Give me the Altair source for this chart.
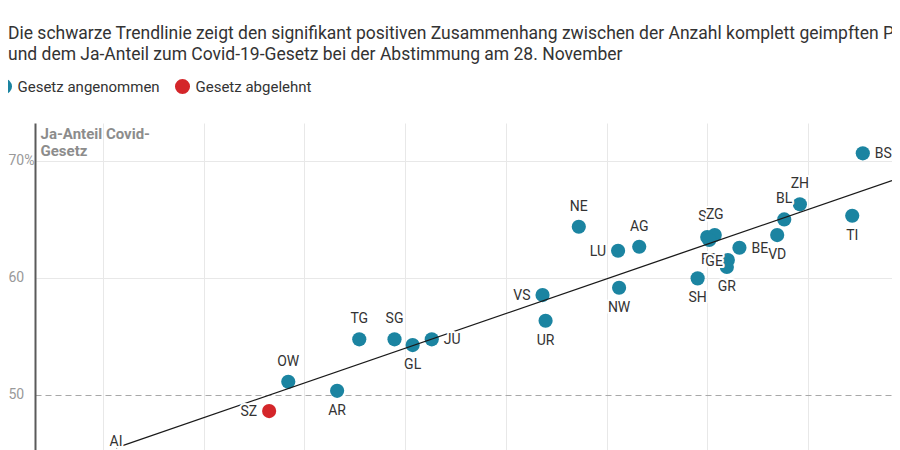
import altair as alt
import pandas as pd

# ---------------- data ----------------
cantons = ["BS", "ZH", "BL", "TI", "VD", "BE", "GE", "GR", "SO", "ZG", "FR", "SH", "AG",
           "LU", "NW", "NE", "VS", "UR", "JU", "GL", "SG", "TG", "AR", "OW", "SZ", "AI"]
impfquote = [67.09, 65.84, 65.53, 66.88, 65.39, 64.64, 64.41, 64.39, 64.00, 64.15, 64.04, 63.81, 62.65,
             62.23, 62.25, 61.45, 60.73, 60.79, 58.53, 58.15, 57.79, 57.09, 56.65, 55.68, 55.30, 52.26]
ja_anteil = [70.62, 66.26, 64.97, 65.28, 63.63, 62.55, 61.50, 60.90, 63.46, 63.63, 63.21, 59.93, 62.63,
             62.29, 59.13, 64.34, 58.50, 56.31, 54.72, 54.23, 54.72, 54.72, 50.32, 51.09, 48.59, 44.23]
resultat = ["Gesetz angenommen"] * 24 + ["Gesetz abgelehnt"] * 2
kategorien = ["Gesetz angenommen", "Gesetz abgelehnt"]

y_ticks = [50, 60, 70]
x_ticks = [52, 54, 56, 58, 60, 62, 64, 66]

titel = "Je höher die Impfquote, desto grösser die Zustimmung zum Covid-Gesetz"
untertitel = [
    "Die schwarze Trendlinie zeigt den signifikant positiven Zusammenhang zwischen der Anzahl komplett geimpften Personen",
    "und dem Ja-Anteil zum Covid-19-Gesetz bei der Abstimmung am 28. November",
]
y_titel = ["Ja-Anteil Covid-", "Gesetz"]

# ---------------- styling ----------------
TEAL = "#1b84a1"
RED = "#d4262a"
X_DOMAIN = [50.65, 67.67]
Y_DOMAIN = [45.26, 73.21]

label_pos = {"BS": "right", "ZH": "top", "BL": "top", "TI": "bottom", "VD": "bottom", "BE": "right",
             "GE": "leftnear", "GR": "bottom", "SO": "top", "ZG": "top", "FR": "bottom", "SH": "bottom",
             "AG": "top", "LU": "left", "NW": "bottom", "NE": "top", "VS": "left", "UR": "bottom",
             "JU": "right", "GL": "bottom", "SG": "top", "TG": "top", "AR": "bottom", "OW": "top",
             "SZ": "left", "AI": "top"}
front_labels = ["ZG", "GE"]
offsets = {"top": dict(dx=0, dy=-20, align="center"),
           "bottom": dict(dx=0, dy=20, align="center"),
           "left": dict(dx=-12, dy=1, align="right"),
           "leftnear": dict(dx=-5, dy=2, align="right"),
           "right": dict(dx=12, dy=1, align="left")}

df = pd.DataFrame({"Kanton": cantons, "Impfquote": impfquote, "JaAnteil": ja_anteil, "Resultat": resultat})
df["pos"] = df["Kanton"].map(label_pos)
df["front"] = df["Kanton"].isin(front_labels)

x_enc = alt.X("Impfquote:Q",
              scale=alt.Scale(domain=X_DOMAIN, nice=False, zero=False),
              axis=alt.Axis(values=x_ticks, labels=False, ticks=False, domain=False, title=None,
                            gridColor="#e8e8e8", gridWidth=1))
y_enc = alt.Y("JaAnteil:Q",
              scale=alt.Scale(domain=Y_DOMAIN, nice=False, zero=False),
              axis=alt.Axis(values=y_ticks, title=y_titel, titleAngle=0, titleAlign="left",
                            titleBaseline="alphabetic", titleX=5, titleY=15, titleFontSize=15,
                            titleFontWeight="bold", titleColor="#8c8c8c", titleLineHeight=17,
                            labelExpr="datum.value == 70 ? '70%' : datum.label",
                            labelFontSize=14, labelColor="#999999", labelAlign="left",
                            labelPadding=27, ticks=False,
                            domainColor="#5a5a5a", domainWidth=2,
                            gridColor=alt.condition("datum.value == 50", alt.value("#a8a8a8"), alt.value("#e8e8e8")),
                            gridDash=alt.condition("datum.value == 50", alt.value([6, 4]), alt.value([])),
                            gridWidth=1.1))

base = alt.Chart(df).encode(x=x_enc, y=y_enc)

points = base.mark_circle(size=201, opacity=1).encode(
    color=alt.Color("Resultat:N",
                    scale=alt.Scale(domain=kategorien, range=[TEAL, RED]),
                    legend=alt.Legend(title=None, orient="none", legendX=-38.5, legendY=-44.5,
                                      direction="horizontal", symbolType="circle", symbolSize=227,
                                      symbolStrokeWidth=0, symbolOpacity=1, labelFontSize=15,
                                      labelColor="#333333", labelOffset=5, columnPadding=14,
                                      padding=0, labelFont="Roboto"))
)

trend = base.transform_regression("Impfquote", "JaAnteil",
                                  extent=[min(impfquote), X_DOMAIN[1]]).mark_line(
    color="#1a1a1a", strokeWidth=1.3)


def label_layers(front, halo):
    layers = []
    for pos, o in offsets.items():
        filt = alt.FieldEqualPredicate(field="pos", equal=pos)
        filt2 = alt.FieldEqualPredicate(field="front", equal=front)
        kw = dict(dx=o["dx"], dy=o["dy"], align=o["align"], baseline="middle",
                  fontSize=14, font="Roboto")
        if halo:
            kw.update(fill="white", stroke="white", strokeWidth=4, strokeJoin="round")
        else:
            kw.update(fill="#333333")
        layers.append(base.transform_filter(filt).transform_filter(filt2)
                      .mark_text(**kw).encode(text="Kanton:N"))
    return layers


labels = (label_layers(False, True) + label_layers(False, False)
          + label_layers(True, True) + label_layers(True, False))

chart = alt.layer(points, trend, *labels).properties(
    width=857, height=327,
    padding={"left": 27, "top": 115, "right": 0, "bottom": 0},
    autosize=alt.AutoSizeParams(type="none"),
    title=alt.TitleParams(text=titel, subtitle=untertitel, anchor="start", frame="group",
                          dx=-27, offset=15.3, font="Roboto", fontSize=26, fontWeight="bold",
                          color="#111111", subtitleFont="Roboto", subtitleFontSize=17.5,
                          subtitleColor="#333333", subtitleLineHeight=21, subtitlePadding=20.2),
).configure(font="Roboto").configure_view(stroke=None)

chart.save("out.html", embed_options={"renderer": "svg", "actions": False})
